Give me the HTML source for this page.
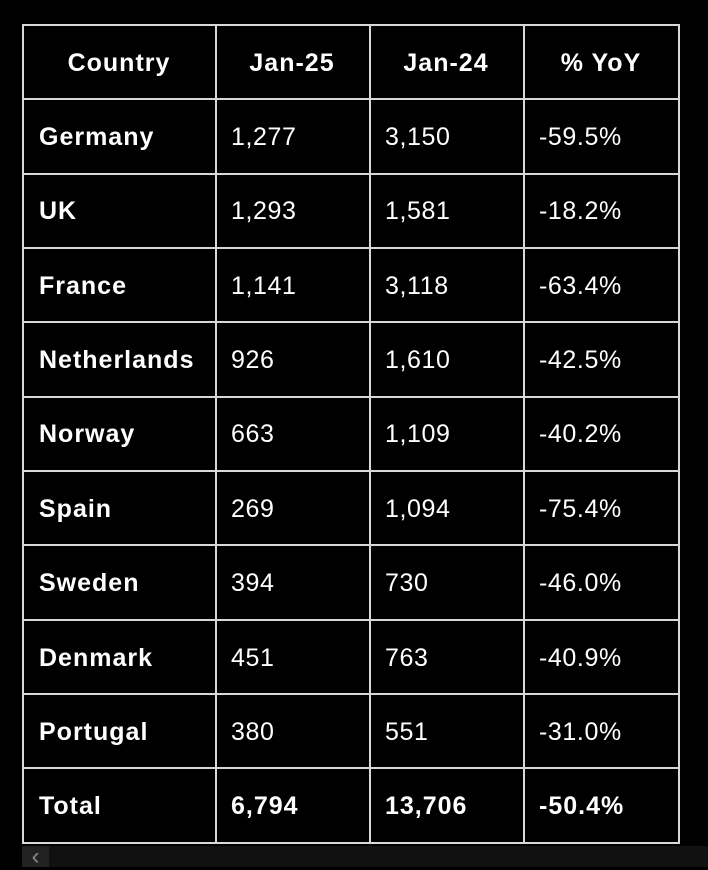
<!DOCTYPE html>
<html><head><meta charset="utf-8"><style>
body{margin:0;width:708px;height:867px;background:#000;overflow:hidden;font-family:"Liberation Sans",sans-serif;color:#fff;position:relative}
.h{position:absolute;left:22px;width:658px;height:2px;background:#d8d8d8}
.v{position:absolute;top:25px;height:819px;width:2px;background:#d8d8d8}
.t{position:absolute;font-size:25px;line-height:30px;white-space:nowrap;letter-spacing:0.6px}
.b{font-weight:bold;letter-spacing:1px}
.c{text-align:center;width:150px}
</style></head><body>
<div class="h" style="top:24px"></div>
<div class="h" style="top:98px"></div>
<div class="h" style="top:173px"></div>
<div class="h" style="top:247px"></div>
<div class="h" style="top:321px"></div>
<div class="h" style="top:396px"></div>
<div class="h" style="top:470px"></div>
<div class="h" style="top:544px"></div>
<div class="h" style="top:619px"></div>
<div class="h" style="top:693px"></div>
<div class="h" style="top:767px"></div>
<div class="h" style="top:842px"></div>
<div class="v" style="left:22px;top:24px"></div>
<div class="v" style="left:215px;top:24px"></div>
<div class="v" style="left:369px;top:24px"></div>
<div class="v" style="left:523px;top:24px"></div>
<div class="v" style="left:678px;top:24px"></div>
<div style="position:absolute;left:22px;top:846px;width:686px;height:21px;background:#111"></div>
<div style="position:absolute;left:22px;top:846px;width:27px;height:21px;background:#222;color:#888;font-size:24px;line-height:21px;text-align:center">&lsaquo;</div>

<div class="t b c" style="left:44px;top:48px">Country</div>
<div class="t b c" style="left:217px;top:48px">Jan-25</div>
<div class="t b c" style="left:371px;top:48px">Jan-24</div>
<div class="t b c" style="left:526px;top:48px">% YoY</div>

<div class="t b" style="left:39px;top:122px">Germany</div><div class="t" style="left:231px;top:122px">1,277</div><div class="t" style="left:385px;top:122px">3,150</div><div class="t" style="left:539px;top:122px">-59.5%</div>
<div class="t b" style="left:39px;top:196px">UK</div><div class="t" style="left:231px;top:196px">1,293</div><div class="t" style="left:385px;top:196px">1,581</div><div class="t" style="left:539px;top:196px">-18.2%</div>
<div class="t b" style="left:39px;top:271px">France</div><div class="t" style="left:231px;top:271px">1,141</div><div class="t" style="left:385px;top:271px">3,118</div><div class="t" style="left:539px;top:271px">-63.4%</div>
<div class="t b" style="left:39px;top:345px">Netherlands</div><div class="t" style="left:231px;top:345px">926</div><div class="t" style="left:385px;top:345px">1,610</div><div class="t" style="left:539px;top:345px">-42.5%</div>
<div class="t b" style="left:39px;top:419px">Norway</div><div class="t" style="left:231px;top:419px">663</div><div class="t" style="left:385px;top:419px">1,109</div><div class="t" style="left:539px;top:419px">-40.2%</div>
<div class="t b" style="left:39px;top:494px">Spain</div><div class="t" style="left:231px;top:494px">269</div><div class="t" style="left:385px;top:494px">1,094</div><div class="t" style="left:539px;top:494px">-75.4%</div>
<div class="t b" style="left:39px;top:568px">Sweden</div><div class="t" style="left:231px;top:568px">394</div><div class="t" style="left:385px;top:568px">730</div><div class="t" style="left:539px;top:568px">-46.0%</div>
<div class="t b" style="left:39px;top:643px">Denmark</div><div class="t" style="left:231px;top:643px">451</div><div class="t" style="left:385px;top:643px">763</div><div class="t" style="left:539px;top:643px">-40.9%</div>
<div class="t b" style="left:39px;top:717px">Portugal</div><div class="t" style="left:231px;top:717px">380</div><div class="t" style="left:385px;top:717px">551</div><div class="t" style="left:539px;top:717px">-31.0%</div>
<div class="t b" style="left:39px;top:791px">Total</div><div class="t b" style="left:231px;top:791px">6,794</div><div class="t b" style="left:385px;top:791px">13,706</div><div class="t b" style="left:539px;top:791px">-50.4%</div>
</body></html>
